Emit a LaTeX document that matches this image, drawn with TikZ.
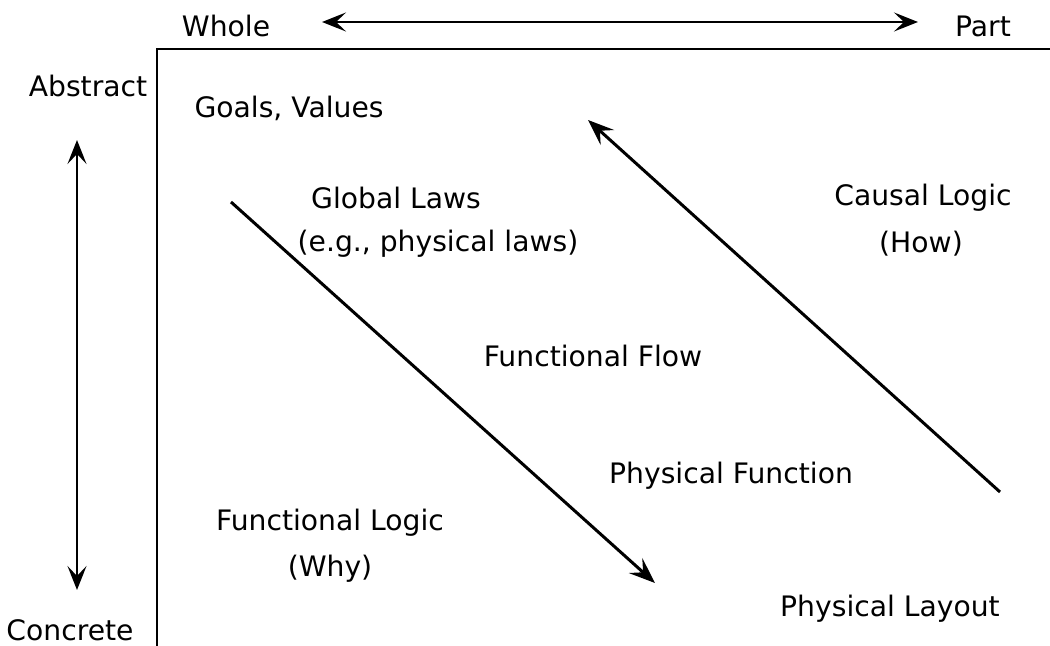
\documentclass[tikz,border=0pt]{standalone}
\usepackage{fontspec}
\setmainfont{DejaVu Sans}
\usetikzlibrary{arrows.meta}
\begin{document}
\begin{tikzpicture}[x=0.5pt,y=-0.5pt,
  lbl/.style={font=\fontsize{14.1}{17}\selectfont, inner sep=0pt, anchor=center},
  frame/.style={line width=1.3pt},
  tip/.style={},
  arr/.style={line width=1.5pt, -{Stealth[length=13pt,width=10pt,inset=5pt]}},
  darr/.style={line width=1.2pt, {Stealth[length=12pt,width=9.5pt,inset=5pt]}-{Stealth[length=12pt,width=9.5pt,inset=5pt]}}]
\useasboundingbox (0,0) rectangle (1050,646);
% frame
\coordinate (tl) at (157,49);
\coordinate (tr) at (1050,49);
\coordinate (bl) at (157,646);
\draw[frame] (tr) -- (tl) -- (bl);
% axis labels
\node[lbl] (whole) at (226,26) {Whole};
\node[lbl] (part) at (983,26) {Part};
\node[lbl] (abstract) at (88,86) {Abstract};
\node[lbl] (concrete) at (70,630) {Concrete};
\coordinate (ha) at (322,22);
\coordinate (hb) at (918,22);
\draw[darr] (ha) -- (hb);
\coordinate (va) at (77,140);
\coordinate (vb) at (77,590);
\draw[darr] (va) -- (vb);
% diagonals
\coordinate (d1a) at (231,202);
\coordinate (d1b) at (655,583);
\draw[arr] (d1a) -- (d1b);
\coordinate (d2a) at (1000,492);
\coordinate (d2b) at (588,120);
\draw[arr] (d2a) -- (d2b);
% texts
\node[lbl] (goals) at (289,108) {Goals, Values};
\node[lbl] (global) at (396,198) {Global Laws};
\node[lbl] (eg) at (438,244) {(e.g., physical laws)};
\node[lbl] (causal) at (923,198) {Causal Logic};
\node[lbl] (how) at (921,244) {(How)};
\node[lbl] (flow) at (593,356) {Functional Flow};
\node[lbl] (pfunc) at (731,476) {Physical Function};
\node[lbl] (flogic) at (330,523) {Functional Logic};
\node[lbl] (why) at (330,569) {(Why)};
\node[lbl] (layout) at (890,609) {Physical Layout};
\end{tikzpicture}
\end{document}
